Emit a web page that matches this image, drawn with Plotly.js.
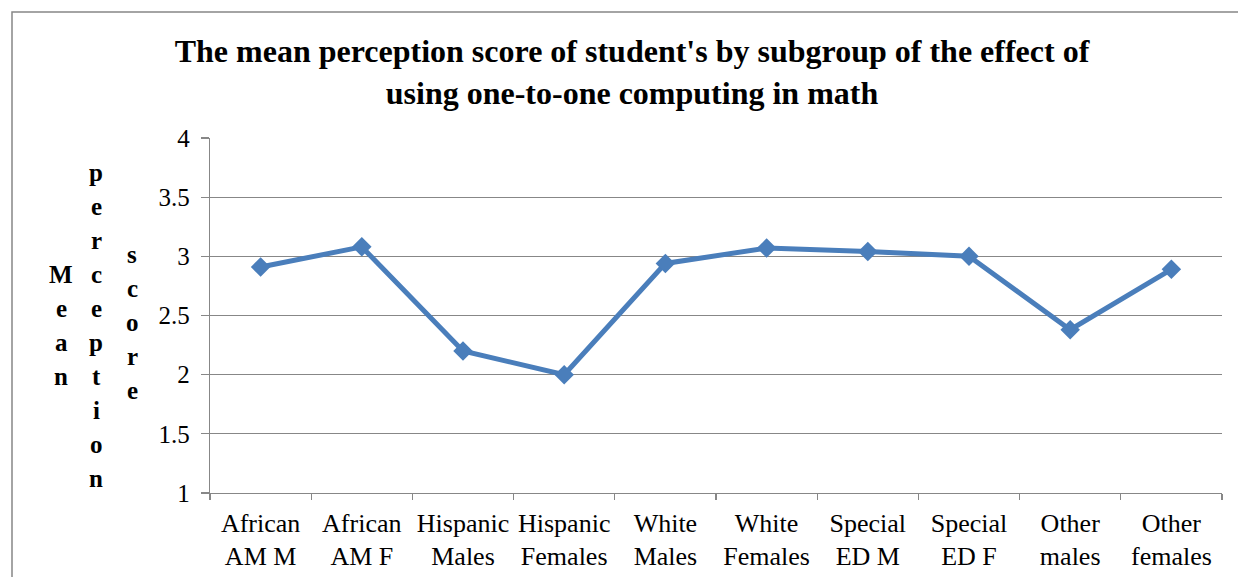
<!DOCTYPE html>
<html>
<head>
<meta charset="utf-8">
<script src="https://cdn.plot.ly/plotly-3.0.1.min.js"></script>
<style>
  html, body { margin: 0; padding: 0; background: #ffffff; }
  #chart { width: 1238px; height: 577px; }
</style>
</head>
<body>
<div id="chart"></div>
<script>
// Subgroups along the x axis (two-line tick labels)
const categories = [
  "African<br>AM M", "African<br>AM F", "Hispanic<br>Males", "Hispanic<br>Females",
  "White<br>Males", "White<br>Females", "Special<br>ED M", "Special<br>ED F",
  "Other<br>males", "Other<br>females"
];

// Mean perception score per subgroup
const meanScores = [2.91, 3.08, 2.20, 2.00, 2.94, 3.07, 3.04, 3.00, 2.38, 2.89];

// Y axis tick values and labels
const yTickVals = [1, 1.5, 2, 2.5, 3, 3.5, 4];
const yTickText = ["1", "1.5", "2", "2.5", "3", "3.5", "4"];

const chartTitle = "The mean perception score of student's by subgroup of the effect of<br>using one-to-one computing in math";

// Vertical axis title: each word stacked letter by letter in its own column
const yTitleWords = ["Mean", "perception", "score"];

const W = 1238, H = 577;
const plotL = 210, plotR = 1222, plotT = 138, plotB = 493;
const serif = "'Liberation Serif', 'Times New Roman', serif";
const gridGray = "#878787";

// Helpers to turn pixel offsets into paper fractions for labels/frame
const px2x = p => (p - plotL) / (plotR - plotL);
const py2y = p => (plotB - p) / (plotB - plotT);

const annotations = [];
const columnX = [61, 96, 132];
const columnMid = [325, 325, 322];
const letterStep = 34;
yTitleWords.forEach((word, wi) => {
  const letters = word.split("");
  const start = columnMid[wi] - (letters.length - 1) * letterStep / 2;
  letters.forEach((ch, li) => {
    annotations.push({
      text: ch, xref: "paper", yref: "paper",
      x: px2x(columnX[wi]), y: py2y(start + li * letterStep),
      xanchor: "center", yanchor: "middle", showarrow: false,
      font: { family: serif, size: 25, color: "#000000", weight: "bold" }
    });
  });
});

const trace = {
  x: categories,
  y: meanScores,
  type: "scatter",
  mode: "lines+markers",
  line: { color: "#4a7ebb", width: 5 },
  marker: { symbol: "diamond", size: 15, color: "#4a7ebb" },
  hoverinfo: "x+y"
};

const layout = {
  width: W, height: H,
  margin: { l: plotL, r: W - plotR, t: plotT, b: H - plotB, pad: 0 },
  paper_bgcolor: "#ffffff",
  plot_bgcolor: "#ffffff",
  showlegend: false,
  title: {
    text: chartTitle,
    font: { family: serif, size: 32, color: "#000000", weight: "bold" },
    xref: "container", x: 632 / W, xanchor: "center",
    yref: "container", y: 1 - 62 / H, yanchor: "middle"
  },
  xaxis: {
    type: "category",
    tickson: "boundaries",
    ticks: "outside", ticklen: 6, tickcolor: gridGray, tickwidth: 1.3,
    showline: true, linecolor: gridGray, linewidth: 1.3,
    showgrid: false, zeroline: false,
    tickangle: 0,
    tickfont: { family: serif, size: 26, color: "#000000" },
    ticklabelstandoff: 6,
    range: [-0.5, categories.length - 0.5]
  },
  yaxis: {
    range: [1, 4],
    tickvals: yTickVals, ticktext: yTickText,
    ticks: "outside", ticklen: 8, tickcolor: gridGray, tickwidth: 1.3,
    showline: true, linecolor: gridGray, linewidth: 1.3,
    showgrid: true, gridcolor: gridGray, gridwidth: 1.3,
    zeroline: false,
    tickfont: { family: serif, size: 25, color: "#000000" },
    ticklabelstandoff: 6
  },
  annotations: annotations,
  shapes: [{
    type: "rect", xref: "paper", yref: "paper",
    x0: px2x(12), x1: px2x(W + 20), y0: py2y(H + 20), y1: py2y(12),
    line: { color: gridGray, width: 1.5 }, fillcolor: "rgba(0,0,0,0)", layer: "below"
  }]
};

Plotly.newPlot("chart", [trace], layout, { displayModeBar: false, staticPlot: true });
</script>
</body>
</html>
